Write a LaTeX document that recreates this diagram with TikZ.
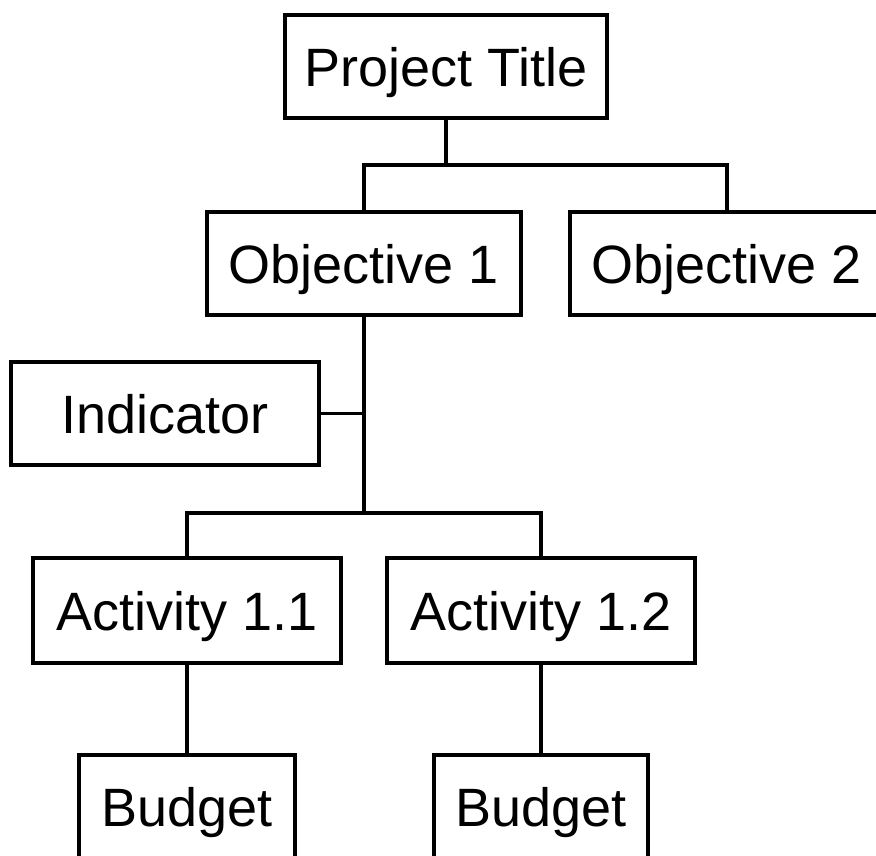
\documentclass[tikz,border=0pt]{standalone}
\usepackage{fontspec}
\setmainfont{Liberation Sans}
\begin{document}
\begin{tikzpicture}[x=1pt,y=-1pt,
  box/.style={draw,line width=3.5pt,inner sep=0pt,minimum height=103pt,
    text height=39pt,text depth=0pt,font=\fontsize{54}{60}\selectfont},
  link/.style={line width=3.5pt}]
%set diagram frame: 876 wide, 855 high, cut at right and bottom
\useasboundingbox (0,0) rectangle (876,855);
\clip (0,0) rectangle (876,855);

% Text Node
\node[box,minimum width=322pt] (title) at (446,66.5) {Project Title};
% Text Node
\node[box,minimum width=314pt] (obj1) at (364,263.5) {Objective 1};
% Text Node
\node[box,minimum width=314pt] (obj2) at (727,263.5) {Objective 2};
% Text Node
\node[box,minimum width=308pt] (ind) at (165,413.5) {Indicator};
% Text Node
\node[box,minimum width=308pt,minimum height=105pt] (act1) at (187,610.5) {Activity 1.1};
% Text Node
\node[box,minimum width=308pt,minimum height=105pt] (act2) at (541,610.5) {Activity 1.2};
% Text Node
\node[box,minimum width=216pt] (bud1) at (187,806.5) {Budget};
% Text Node
\node[box,minimum width=214pt] (bud2) at (541,806.5) {Budget};

%Straight Lines
\coordinate (tjoin) at (446,165);
\draw[link] (title.south) -- (tjoin) -| (obj1.north);
\draw[link] (tjoin) -| (obj2.north);

%Straight Lines
\coordinate (ojoin) at (364,513);
\draw[link] (obj1.south) -- (ojoin) -| (act1.north);
\draw[link] (ojoin) -| (act2.north);
\draw[link] (ind.east) -- (ind.east -| obj1.south);

%Straight Lines
\draw[link] (act1.south) -- (bud1.north);
\draw[link] (act2.south) -- (bud2.north);

\end{tikzpicture}
\end{document}
